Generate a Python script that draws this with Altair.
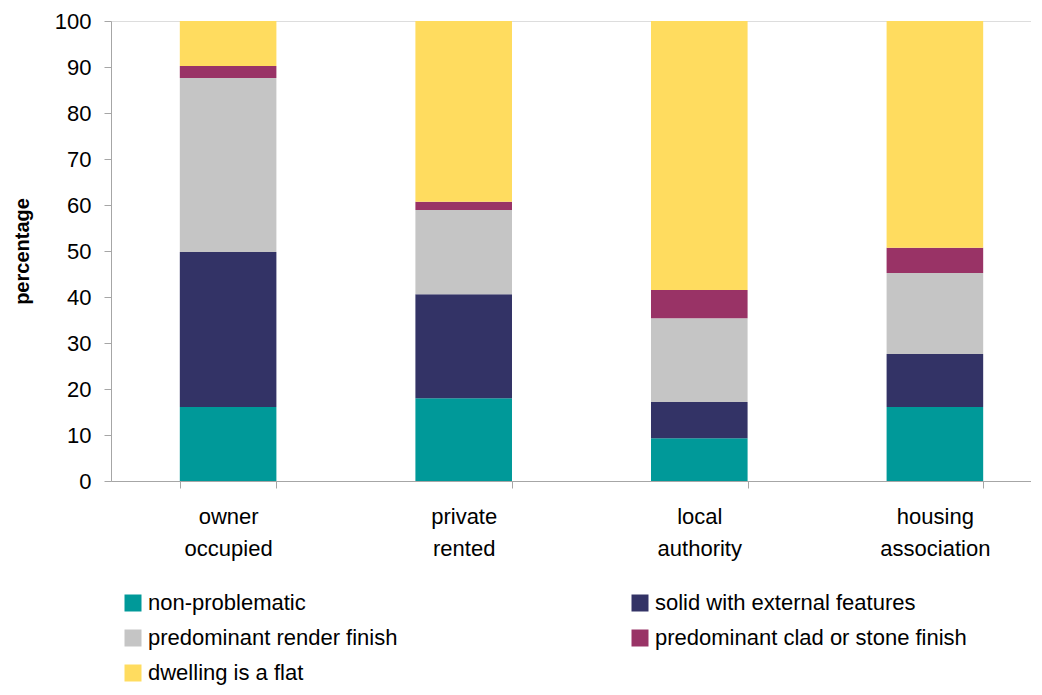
import altair as alt
import pandas as pd

categories = ["owner occupied", "private rented", "local authority", "housing association"]
series = [
    "non-problematic",
    "solid with external features",
    "predominant render finish",
    "predominant clad or stone finish",
    "dwelling is a flat",
]
non_problematic = [16.1, 18.0, 9.3, 16.1]
solid_external = [33.7, 22.6, 7.9, 11.5]
render_finish = [37.8, 18.3, 18.2, 17.6]
clad_stone = [2.6, 1.8, 6.1, 5.5]
flat = [9.8, 39.3, 58.5, 49.3]
colors = ["#009999", "#333366", "#C5C5C5", "#993366", "#FFDC5F"]

# legend fills column by column: order entries so rows read left-to-right
legend_order = [0, 2, 4, 1, 3]
legend_domain = [series[i] for i in legend_order]
legend_range = [colors[i] for i in legend_order]

values = [non_problematic, solid_external, render_finish, clad_stone, flat]
rows = []
for si, (s, vals) in enumerate(zip(series, values)):
    for c, v in zip(categories, vals):
        rows.append({"category": c, "series": s, "value": v, "idx": si})
df = pd.DataFrame(rows)

FONT = "Liberation Sans"
AXIS_GREY = "#A6A6A6"

chart = alt.Chart(df).mark_bar().encode(
    x=alt.X(
        "category:N",
        sort=categories,
        scale=alt.Scale(paddingInner=0.59, paddingOuter=0.2475, align=0.59),
        axis=alt.Axis(
            title=None,
            labelAngle=0,
            labelExpr="split(datum.label, ' ')",
            labelFont=FONT,
            labelFontSize=22,
            labelColor="black",
            labelLineHeight=32,
            labelPadding=18,
            tickBand="extent",
            tickSize=7,
            tickColor=AXIS_GREY,
            domainColor=AXIS_GREY,
            labelLimit=300,
        ),
    ),
    y=alt.Y(
        "value:Q",
        stack="zero",
        scale=alt.Scale(domain=[0, 100], nice=False),
        axis=alt.Axis(
            title="percentage",
            titleFont=FONT,
            titleFontSize=20,
            titleFontWeight="bold",
            titleColor="black",
            titlePadding=22,
            values=list(range(0, 101, 10)),
            labelFont=FONT,
            labelFontSize=22,
            labelColor="black",
            labelPadding=13,
            tickSize=7,
            tickColor=AXIS_GREY,
            domainColor=AXIS_GREY,
            grid=False,
        ),
    ),
    color=alt.Color(
        "series:N",
        sort=legend_domain,
        scale=alt.Scale(domain=legend_domain, range=legend_range),
        legend=alt.Legend(
            title=None,
            orient="none",
            legendX=11,
            legendY=571,
            columns=2,
            columnPadding=231,
            rowPadding=13,
            symbolType="square",
            symbolSize=289,
            symbolStrokeWidth=0,
            labelFont=FONT,
            labelFontSize=22,
            labelColor="black",
            labelOffset=4,
            labelLimit=500,
            padding=0,
        ),
    ),
    order=alt.Order("idx:Q"),
).properties(
    width=920,
    height=460,
    autosize=alt.AutoSizeParams(type="none"),
    padding={"left": 103, "top": 13, "right": 0, "bottom": 206},
).configure_view(stroke=None).configure(background="white")

chart.save("out.html", embed_options={"renderer": "svg", "actions": False})
